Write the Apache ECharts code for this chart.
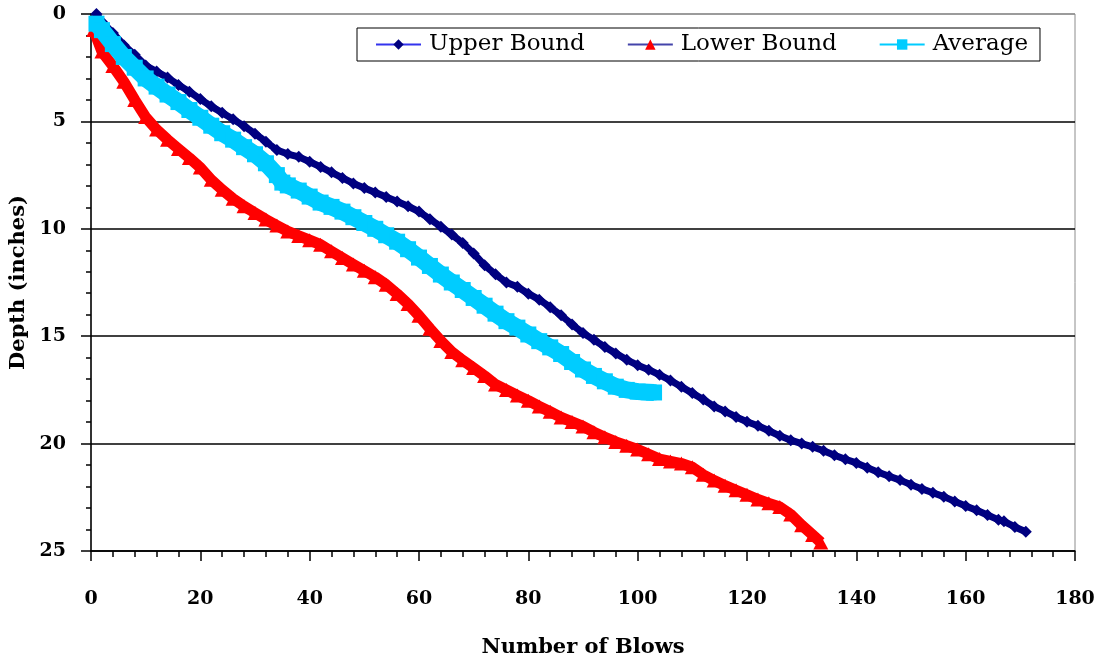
<!DOCTYPE html>
<html>
<head>
<meta charset="utf-8">
<title>Depth vs Number of Blows</title>
<script src="https://cdn.jsdelivr.net/npm/echarts@6.0.0/dist/echarts.min.js"></script>
<style>
  html, body { margin: 0; padding: 0; background: #ffffff; }
  #chart { width: 1100px; height: 661px; }
</style>
</head>
<body>
<div id="chart"></div>
<script>
// [blows, depth in inches]
const upperBound = [
  [1, 0.0], [2, 0.36], [4, 0.88], [6, 1.45], [8, 1.9], [10, 2.4], [12, 2.68], [14, 2.96],
  [16, 3.3], [18, 3.62], [20, 3.96], [22, 4.3], [24, 4.6], [26, 4.9], [28, 5.22], [30, 5.57],
  [32, 5.95], [34, 6.33], [36, 6.52], [38, 6.65], [40, 6.88], [42, 7.12], [44, 7.37], [46, 7.63],
  [48, 7.89], [50, 8.1], [52, 8.31], [54, 8.52], [56, 8.73], [58, 8.95], [60, 9.2], [62, 9.55],
  [64, 9.9], [66, 10.27], [68, 10.66], [70, 11.15], [72, 11.7], [74, 12.12], [76, 12.5], [78, 12.7],
  [80, 13.02], [82, 13.3], [84, 13.65], [86, 14.03], [88, 14.45], [90, 14.85], [92, 15.17], [94, 15.5],
  [96, 15.8], [98, 16.1], [100, 16.35], [102, 16.56], [104, 16.8], [106, 17.06], [108, 17.35], [110, 17.65],
  [112, 17.95], [114, 18.27], [116, 18.5], [118, 18.76], [120, 18.98], [122, 19.17], [124, 19.4], [126, 19.64],
  [128, 19.84], [130, 20.0], [132, 20.15], [134, 20.33], [136, 20.54], [138, 20.73], [140, 20.9], [142, 21.12],
  [144, 21.33], [146, 21.52], [148, 21.7], [150, 21.91], [152, 22.11], [154, 22.29], [156, 22.47], [158, 22.69],
  [160, 22.9], [162, 23.1], [164, 23.32], [166, 23.55], [167, 23.62], [169, 23.88], [171, 24.1]
];

const lowerBound = [
  [0.5, 0.75], [2, 1.75], [4, 2.42], [6, 3.15], [8, 4.0], [10, 4.8], [12, 5.38], [14, 5.85],
  [16, 6.28], [18, 6.7], [20, 7.15], [22, 7.72], [24, 8.18], [26, 8.6], [28, 8.95], [30, 9.26],
  [32, 9.57], [34, 9.85], [36, 10.12], [38, 10.33], [40, 10.53], [42, 10.74], [44, 11.05], [46, 11.36],
  [48, 11.66], [50, 11.95], [52, 12.25], [54, 12.6], [56, 13.03], [58, 13.5], [60, 14.05], [62, 14.65],
  [64, 15.22], [66, 15.73], [68, 16.12], [70, 16.48], [72, 16.85], [74, 17.25], [76, 17.5], [78, 17.76],
  [80, 18.0], [82, 18.27], [84, 18.52], [86, 18.78], [88, 18.99], [90, 19.2], [92, 19.47], [94, 19.7],
  [96, 19.92], [98, 20.1], [100, 20.27], [102, 20.5], [104, 20.72], [106, 20.83], [108, 20.93], [110, 21.1],
  [112, 21.45], [114, 21.72], [116, 21.96], [118, 22.17], [120, 22.38], [122, 22.6], [124, 22.78], [126, 22.95],
  [128, 23.3], [130, 23.8], [132, 24.25], [133.5, 24.6]
];

const average = [
  [1, 0.45], [2, 0.75], [4, 1.4], [6, 2.0], [8, 2.5], [10, 3.0], [12, 3.38], [14, 3.75],
  [16, 4.1], [18, 4.47], [20, 4.83], [22, 5.2], [24, 5.55], [26, 5.85], [28, 6.2], [30, 6.53],
  [32, 6.95], [34, 7.5], [35, 7.85], [36, 7.98], [38, 8.22], [40, 8.5], [42, 8.78], [44, 8.98],
  [46, 9.2], [48, 9.46], [50, 9.73], [52, 10.0], [54, 10.3], [56, 10.6], [58, 10.95], [60, 11.34],
  [62, 11.73], [64, 12.13], [66, 12.5], [68, 12.85], [70, 13.22], [72, 13.58], [74, 13.95], [76, 14.3],
  [78, 14.6], [80, 14.92], [82, 15.23], [84, 15.52], [86, 15.83], [88, 16.2], [90, 16.55], [92, 16.85],
  [94, 17.1], [96, 17.35], [98, 17.5], [100, 17.58], [102, 17.61], [103, 17.62]
];

const seriesNames = ['Upper Bound', 'Lower Bound', 'Average'];
const xAxisName = 'Number of Blows';
const yAxisName = 'Depth (inches)';

const FONT = 'DejaVu Serif';

const chart = echarts.init(document.getElementById('chart'), null, { renderer: 'canvas' });

chart.setOption({
  animation: false,
  backgroundColor: '#ffffff',
  textStyle: { fontFamily: FONT, color: '#000' },
  grid: {
    left: 91, right: 25, top: 14, bottom: 110,
    show: true, borderColor: '#8c8c8c', borderWidth: 1, backgroundColor: 'transparent',
    outerBoundsMode: 'none', containLabel: false
  },
  legend: {
    left: 357, top: 28,
    orient: 'horizontal',
    backgroundColor: '#ffffff',
    borderColor: '#000000', borderWidth: 1,
    padding: [5, 12, 5, 18],
    itemWidth: 45, itemHeight: 13, itemGap: 42,
    textStyle: { fontFamily: FONT, fontSize: 23, color: '#000', padding: [0, 0, 0, 3] },
    data: [
      { name: seriesNames[0], lineStyle: { color: '#3333ee', width: 2 } },
      { name: seriesNames[1], lineStyle: { color: '#4444aa', width: 2 } },
      { name: seriesNames[2], lineStyle: { color: '#00ccff', width: 2 } }
    ]
  },
  xAxis: {
    type: 'value', min: 0, max: 180, interval: 20,
    name: xAxisName, nameLocation: 'middle', nameGap: 86,
    nameTextStyle: { fontFamily: FONT, fontSize: 21, fontWeight: 'bold', color: '#000' },
    axisLine: { show: true, onZero: false, lineStyle: { color: '#000', width: 1.5 } },
    axisTick: { show: true, inside: false, length: 10, lineStyle: { color: '#000', width: 1.5 } },
    minorTick: { show: true, splitNumber: 5, length: 6, lineStyle: { color: '#000', width: 1.5 } },
    axisLabel: { margin: 39, fontFamily: FONT, fontSize: 19, fontWeight: 'bold', color: '#000' },
    splitLine: { show: false }
  },
  yAxis: {
    type: 'value', inverse: true, min: 0, max: 25, interval: 5,
    name: yAxisName, nameLocation: 'middle', nameGap: 50,
    nameTextStyle: { fontFamily: FONT, fontSize: 21, fontWeight: 'bold', color: '#000' },
    axisLine: { show: true, onZero: false, lineStyle: { color: '#000', width: 1.5 } },
    axisTick: { show: true, inside: false, length: 10, lineStyle: { color: '#000', width: 1.5 } },
    minorTick: { show: true, splitNumber: 5, length: 5, lineStyle: { color: '#000', width: 1.5 } },
    axisLabel: { margin: 25, fontFamily: FONT, fontSize: 19, fontWeight: 'bold', color: '#000' },
    splitLine: {
      show: true,
      lineStyle: { color: ['#8c8c8c', '#000', '#000', '#000', '#000', '#000'], width: 1.5 }
    }
  },
  series: [
    {
      name: seriesNames[0], type: 'line', data: upperBound,
      symbol: 'diamond', symbolSize: [12, 12],
      itemStyle: { color: '#000080' },
      lineStyle: { color: '#000080', width: 7, join: 'round' },
      z: 3
    },
    {
      name: seriesNames[1], type: 'line', data: lowerBound,
      symbol: 'triangle', symbolSize: [15, 14],
      itemStyle: { color: '#ff0000' },
      lineStyle: { color: '#ff0000', width: 11, join: 'round' },
      z: 4
    },
    {
      name: seriesNames[2], type: 'line', data: average,
      symbol: 'rect', symbolSize: 16,
      itemStyle: { color: '#00ccff' },
      lineStyle: { color: '#00ccff', width: 17, join: 'round' },
      z: 5
    }
  ]
});
</script>
</body>
</html>
